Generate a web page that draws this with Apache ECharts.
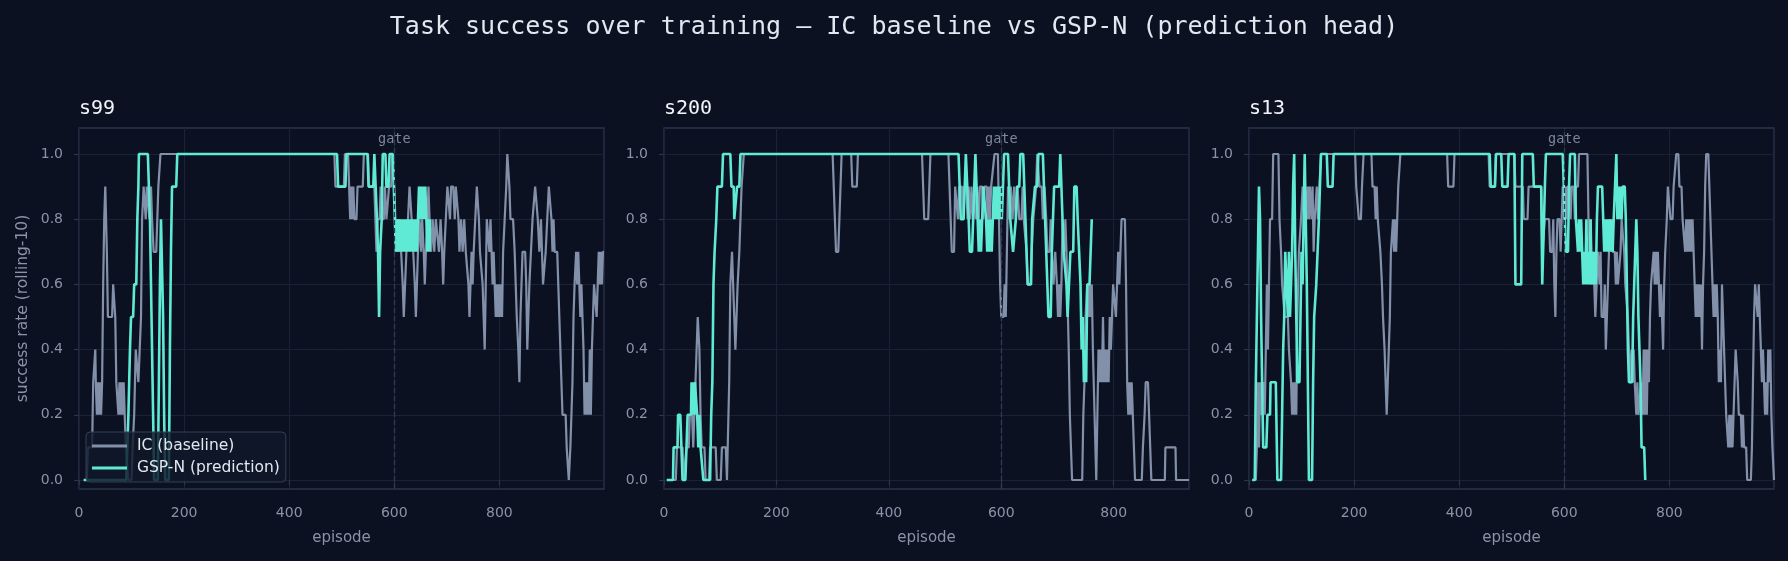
<!DOCTYPE html>
<html lang="en">
<head>
<meta charset="UTF-8">
<title>Task success over training</title>
<script src="https://cdn.jsdelivr.net/npm/echarts@6.0.0/dist/echarts.min.js"></script>
<style>
  html, body { margin: 0; padding: 0; background: #0b1120; }
  #chart { width: 1788px; height: 561px; }
</style>
</head>
<body>
<div id="chart"></div>
<script>
// ---- data (vertices of each rolling-10 curve: [episode, rate]) ----
var figTitle = 'Task success over training — IC baseline vs GSP-N (prediction head)';
var seeds = ['s99', 's200', 's13'];
var lastEpisode = [999, 934, 999];
var xTicks = [0, 200, 400, 600, 800];
var yTicks = [0, 0.2, 0.4, 0.6, 0.8, 1.0];
var gateEpisode = 600;
var nameIC = 'IC (baseline)';
var nameGSP = 'GSP-N (prediction)';

var s99_ic = [[9,0],[15,0],[17,0.1],[25,0.1],[27,0.3],[30,0.3],[31,0.4],[32,0.3],[34,0.2],[36,0.3],[38,0.2],[40,0.3],[42,0.2],[44,0.3],[46,0.6],[48,0.8],[50,0.9],[51,0.9],[53,0.7],[55,0.5],[63,0.5],[65,0.6],[67,0.6],[69,0.5],[71,0.3],[73,0.3],[75,0.2],[77,0.3],[79,0.2],[81,0.3],[83,0.2],[85,0.3],[87,0.2],[89,0.1],[92,0.1],[94,0],[100,0],[102,0.1],[105,0.2],[108,0.4],[111,0.4],[113,0.3],[116,0.3],[118,0.5],[120,0.8],[123,0.9],[125,0.9],[127,0.8],[129,0.9],[132,0.9],[134,0.8],[137,0.9],[139,0.8],[142,0.7],[147,0.7],[149,0.8],[151,0.9],[153,0.9],[155,1],
  [486,1],[488,0.9],[504,0.9],[506,1],[512,1],[514,0.9],[516,0.8],[518,0.9],[520,0.8],[522,0.9],[524,0.8],[528,0.8],[530,0.9],[540,0.9],[542,1],[550,1],[552,0.9],[562,0.9],[564,0.8],[566,0.7],[568,0.8],[572,0.8],[574,0.9],[576,0.8],[580,0.8],[582,0.9],[585,0.8],[588,0.8],[590,0.9],[594,0.9],[596,1],[598,1],[600,0.9],[602,0.8],[604,0.7],[606,0.8],[608,0.7],[610,0.8],[613,0.7],[616,0.6],[618,0.5],[620,0.5],[623,0.7],[626,0.8],[629,0.9],[631,0.9],[633,0.8],[636,0.7],[639,0.6],[641,0.5],[643,0.5],[645,0.7],[648,0.8],[651,0.7],[653,0.8],[656,0.7],[658,0.6],[660,0.7],[663,0.8],[665,0.9],[667,0.8],[670,0.7],[673,0.8],[676,0.7],[679,0.8],[682,0.8],[685,0.7],[688,0.8],[691,0.7],[693,0.6],[695,0.7],[698,0.8],[701,0.9],[704,0.9],[706,0.8],[708,0.9],[712,0.9],[715,0.8],[717,0.9],[720,0.9],[722,0.8],[724,0.7],[727,0.8],[730,0.7],[733,0.8],[736,0.7],[739,0.7],[741,0.6],[743,0.5],[745,0.6],[747,0.7],[749,0.6],[751,0.7],[754,0.8],[757,0.9],[759,0.9],[761,0.8],[763,0.7],[766,0.7],[768,0.6],[770,0.5],[772,0.4],[774,0.6],[776,0.8],[779,0.8],[781,0.7],[783,0.8],[785,0.7],[787,0.6],[789,0.7],[791,0.6],[793,0.5],[795,0.6],[797,0.5],[799,0.6],[801,0.5],[803,0.6],[805,0.5],[807,0.7],[810,0.8],[813,0.9],[815,1],[817,1],[819,0.9],[821,0.8],[826,0.8],[829,0.7],[831,0.6],[833,0.5],[836,0.4],[838,0.3],[840,0.5],[842,0.6],[844,0.7],[849,0.7],[851,0.6],[853,0.4],[855,0.4],[857,0.6],[860,0.7],[863,0.8],[866,0.8],[868,0.9],[871,0.9],[873,0.8],[876,0.7],[879,0.8],[881,0.7],[883,0.6],[886,0.6],[888,0.7],[891,0.8],[894,0.9],[897,0.9],[899,0.8],[901,0.7],[903,0.8],[905,0.7],[910,0.7],[912,0.6],[914,0.5],[916,0.4],[918,0.3],[920,0.2],[926,0.2],[928,0.1],[930,0.1],[932,0],[933,0],[935,0.1],[937,0.1],[939,0.3],[941,0.5],[943,0.6],[946,0.7],[948,0.6],[950,0.7],[952,0.6],[954,0.5],[956,0.6],[958,0.5],[960,0.4],[962,0.2],[964,0.3],[966,0.2],[968,0.3],[970,0.2],[972,0.4],[974,0.2],[976,0.4],[978,0.5],[980,0.6],[983,0.6],[985,0.5],[987,0.6],[989,0.7],[991,0.6],[993,0.7],[995,0.6],[997,0.7],[999,0.7]];

var s99_gsp = [[9,0],[90,0],[92,0.1],[94,0.2],[97,0.4],[99,0.5],[103,0.5],[105,0.6],[109,0.6],[111,0.8],[113,0.9],[114,1],[131,1],[133,0.9],[135,0.8],[137,0.6],[139,0.4],[141,0.2],[143,0],[150,0],[152,0.3],[154,0.6],[156,0.8],[158,0.8],[160,0.5],[162,0.2],[164,0],[171,0],[173,0.4],[175,0.7],[177,0.9],[185,0.9],[187,1],
  [491,1],[493,0.9],[507,0.9],[509,1],[549,1],[551,0.9],[560,0.9],[562,1],[565,1],[567,0.8],[569,0.7],[571,0.5],[573,0.7],[576,0.8],[578,1],[583,1],[585,0.9],[589,0.9],[591,1],[597,1],[599,0.9],[601,0.8],[603,0.7],[605,0.8],[607,0.7],[609,0.8],[611,0.7],[613,0.8],[615,0.7],[617,0.8],[619,0.7],[621,0.8],[623,0.7],[625,0.8],[627,0.7],[629,0.8],[631,0.7],[633,0.8],[635,0.7],[637,0.8],[639,0.7],[641,0.8],[643,0.7],[645,0.8],[647,0.9],[649,0.8],[651,0.9],[653,0.8],[655,0.9],[657,0.8],[659,0.9],[661,0.8],[663,0.7],[665,0.8],[667,0.7],[668,0.8]];

var s200_ic = [[5,0],[21,0],[23,0.1],[33,0.1],[35,0],[38,0],[40,0.1],[44,0.1],[46,0.2],[50,0.2],[52,0.1],[54,0.2],[56,0.3],[58,0.4],[60,0.5],[62,0.5],[63,0.4],[65,0.2],[67,0.1],[72,0.1],[74,0],[80,0],[82,0.1],[92,0.1],[94,0],[101,0],[103,0.1],[110,0.1],[112,0],[114,0],[116,0.3],[118,0.6],[121,0.7],[123,0.7],[125,0.5],[127,0.4],[129,0.4],[131,0.6],[134,0.7],[136,0.8],[138,0.9],[140,0.9],[142,1],
  [300,1],[302,0.9],[304,0.8],[306,0.7],[310,0.7],[312,0.8],[314,0.9],[316,1],[333,1],[335,0.9],[343,0.9],[345,1],[459,1],[461,0.9],[463,0.8],[470,0.8],[472,0.9],[474,1],[506,1],[508,0.9],[510,0.8],[512,0.7],[516,0.7],[518,0.9],[521,0.9],[523,0.8],[525,0.9],[530,0.9],[532,0.8],[534,0.9],[538,0.9],[540,0.8],[542,0.9],[545,0.8],[547,0.9],[550,0.8],[552,0.9],[555,0.8],[557,0.9],[560,0.8],[562,0.9],[566,0.9],[568,0.8],[570,0.9],[574,0.9],[576,0.8],[578,0.9],[580,0.8],[582,0.9],[585,0.9],[588,1],[594,1],[596,0.8],[598,0.6],[600,0.5],[604,0.5],[606,0.6],[608,0.5],[610,0.7],[612,0.9],[614,0.8],[617,0.9],[620,0.8],[623,0.9],[626,0.8],[629,0.9],[632,0.8],[636,0.8],[638,0.9],[640,0.8],[643,0.8],[645,0.7],[647,0.6],[652,0.6],[654,0.7],[657,0.8],[660,0.8],[662,0.9],[664,1],[666,1],[668,0.9],[672,0.9],[674,0.8],[677,0.9],[680,0.8],[682,0.7],[686,0.7],[688,0.8],[690,0.7],[693,0.6],[696,0.7],[699,0.6],[701,0.5],[703,0.6],[705,0.5],[707,0.6],[709,0.8],[712,0.7],[714,0.8],[716,0.7],[718,0.7],[720,0.4],[722,0.2],[724,0.1],[726,0],[744,0],[746,0.2],[748,0.3],[750,0.5],[753,0.6],[755,0.5],[757,0.6],[759,0.5],[761,0.6],[763,0.4],[766,0.2],[769,0],[771,0.2],[773,0.4],[775,0.3],[777,0.4],[779,0.3],[781,0.5],[783,0.3],[785,0.4],[787,0.3],[789,0.4],[791,0.3],[793,0.5],[795,0.4],[797,0.5],[799,0.6],[802,0.6],[804,0.5],[806,0.6],[808,0.7],[810,0.6],[812,0.7],[814,0.8],[820,0.8],[822,0.6],[824,0.3],[826,0.2],[828,0.3],[830,0.2],[832,0.3],[834,0.2],[836,0.1],[838,0],[850,0],[852,0.1],[855,0.2],[857,0.3],[861,0.3],[863,0.2],[865,0.1],[867,0],[891,0],[892,0.1],[910,0.1],[911,0],[934,0]];

var s200_gsp = [[5,0],[16,0],[17,0.1],[24,0.1],[25,0.2],[29,0.2],[31,0.1],[33,0],[38,0],[40,0.1],[42,0.2],[48,0.2],[49,0.3],[51,0.2],[52,0.3],[54,0.2],[55,0.3],[57,0.3],[59,0.2],[61,0.1],[63,0.2],[65,0.1],[68,0.1],[70,0],[82,0],[84,0.2],[86,0.3],[88,0.6],[90,0.7],[92,0.7],[93,0.8],[95,0.9],[103,0.9],[105,1],[118,1],[120,0.9],[124,0.9],[125,0.8],[128,0.8],[130,0.9],[134,0.9],[136,1],
  [524,1],[526,0.9],[528,0.8],[533,0.8],[535,0.9],[537,1],[540,1],[542,0.8],[544,0.7],[548,0.7],[550,0.8],[552,0.9],[554,1],[556,0.9],[558,0.8],[560,0.7],[562,0.8],[564,0.7],[566,0.8],[568,0.9],[571,0.9],[573,0.8],[575,0.7],[577,0.8],[579,0.7],[581,0.8],[583,0.7],[585,0.8],[587,0.9],[589,0.8],[591,0.9],[593,0.8],[595,0.9],[597,0.8],[599,0.9],[601,0.8],[603,0.9],[605,1],[612,1],[614,0.9],[616,0.8],[619,0.8],[621,0.7],[624,0.7],[626,0.8],[628,0.9],[632,0.9],[634,1],[639,1],[641,0.9],[643,0.8],[645,0.7],[647,0.6],[653,0.6],[655,0.8],[658,0.8],[660,0.9],[664,0.9],[666,1],[674,1],[676,0.9],[678,0.8],[680,0.7],[682,0.6],[684,0.5],[688,0.5],[690,0.7],[692,0.8],[694,0.9],[703,0.9],[705,1],[707,1],[709,0.8],[711,0.7],[714,0.7],[716,0.6],[718,0.5],[721,0.5],[723,0.7],[728,0.7],[730,0.9],[734,0.9],[736,0.8],[739,0.8],[741,0.6],[743,0.4],[745,0.5],[747,0.3],[749,0.4],[751,0.3],[753,0.6],[757,0.6],[759,0.7],[761,0.8]];

var s13_ic = [[9,0],[13,0],[15,0.1],[17,0.3],[19,0.1],[21,0.3],[23,0.2],[26,0.2],[28,0.3],[30,0.2],[32,0.4],[34,0.6],[36,0.4],[38,0.6],[40,0.8],[44,0.8],[46,1],[56,1],[58,0.8],[61,0.7],[63,0.6],[66,0.6],[68,0.5],[74,0.5],[76,0.4],[80,0.3],[82,0.2],[84,0.3],[86,0.2],[88,0.3],[90,0.2],[92,0.5],[95,0.7],[99,0.8],[102,0.9],[105,0.8],[107,0.9],[110,0.8],[112,0.9],[114,0.8],[116,0.9],[119,0.8],[121,0.9],[123,0.7],[125,0.8],[127,0.8],[129,0.9],[131,0.8],[134,0.9],[137,1],
  [202,1],[204,0.9],[207,0.9],[209,0.8],[213,0.8],[215,0.9],[218,1],[233,1],[235,0.9],[239,0.9],[241,0.8],[243,0.9],[245,0.8],[248,0.8],[250,0.7],[253,0.6],[255,0.5],[258,0.4],[260,0.3],[262,0.2],[264,0.3],[266,0.4],[268,0.5],[270,0.7],[272,0.7],[274,0.8],[276,0.7],[278,0.8],[280,0.7],[282,0.8],[284,0.9],[286,0.9],[288,1],[377,1],[379,0.9],[389,0.9],[391,1],[456,1],[458,0.9],[468,0.9],[470,1],
  [505,1],[507,0.9],[521,0.9],[523,0.8],[530,0.8],[532,0.9],[556,0.9],[558,0.7],[561,0.7],[563,0.8],[571,0.8],[573,0.7],[577,0.7],[579,0.8],[581,0.6],[583,0.5],[585,0.7],[587,0.8],[591,0.8],[593,0.7],[595,0.8],[597,0.9],[600,0.8],[602,0.9],[604,0.8],[606,0.9],[610,0.9],[612,0.8],[614,0.9],[618,0.9],[620,0.8],[622,0.9],[626,0.9],[628,1],[644,1],[646,0.8],[648,0.7],[650,0.8],[652,0.6],[655,0.7],[657,0.6],[659,0.5],[662,0.5],[664,0.7],[667,0.6],[669,0.7],[671,0.5],[675,0.5],[677,0.6],[679,0.4],[681,0.4],[683,0.6],[685,0.7],[687,0.8],[690,0.8],[692,0.7],[696,0.7],[698,0.6],[700,0.7],[702,0.6],[705,0.6],[707,0.7],[709,0.8],[712,0.8],[714,0.7],[716,0.6],[719,0.6],[721,0.5],[723,0.4],[725,0.3],[728,0.4],[730,0.3],[732,0.4],[734,0.3],[737,0.2],[739,0.3],[741,0.2],[744,0.2],[746,0.3],[749,0.2],[751,0.4],[753,0.2],[755,0.4],[757,0.2],[759,0.4],[761,0.3],[763,0.5],[765,0.6],[768,0.6],[770,0.7],[772,0.6],[774,0.7],[776,0.6],[778,0.7],[780,0.6],[782,0.5],[784,0.6],[786,0.5],[788,0.4],[790,0.6],[792,0.7],[795,0.8],[797,0.9],[800,0.9],[802,0.8],[806,0.8],[808,0.9],[811,0.9],[813,1],[817,1],[819,0.9],[823,0.9],[825,0.8],[828,0.8],[830,0.7],[832,0.8],[834,0.7],[836,0.8],[838,0.7],[840,0.8],[842,0.7],[844,0.8],[846,0.7],[848,0.6],[850,0.5],[852,0.6],[854,0.5],[856,0.6],[858,0.5],[860,0.6],[862,0.4],[864,0.6],[866,0.7],[868,0.9],[870,1],[874,1],[876,0.9],[878,0.8],[880,0.7],[882,0.6],[884,0.5],[886,0.6],[888,0.5],[890,0.6],[892,0.5],[894,0.3],[896,0.4],[898,0.3],[900,0.6],[902,0.5],[904,0.4],[906,0.3],[908,0.2],[910,0.2],[912,0.1],[914,0.2],[916,0.1],[918,0.2],[920,0.1],[922,0.2],[924,0.3],[926,0.4],[928,0.4],[930,0.3],[932,0.2],[936,0.2],[938,0.1],[940,0.2],[942,0.1],[946,0.1],[948,0],[955,0],[957,0.1],[959,0.3],[961,0.5],[963,0.6],[966,0.6],[968,0.5],[970,0.6],[972,0.5],[974,0.4],[976,0.3],[978,0.4],[980,0.3],[982,0.2],[984,0.3],[986,0.2],[988,0.4],[990,0.3],[992,0.4],[994,0.2],[996,0.1],[999,0]];

var s13_gsp = [[6,0],[11,0],[13,0.3],[16,0.6],[19,0.9],[21,0.8],[23,0.5],[25,0.3],[27,0.1],[33,0.1],[35,0.2],[40,0.2],[41,0.3],[51,0.3],[53,0.1],[54,0],[61,0],[63,0.2],[65,0.4],[67,0.5],[69,0.7],[72,0.7],[74,0.5],[76,0.7],[78,0.5],[80,0.6],[82,0.7],[84,0.9],[86,1],[88,0.7],[90,0.5],[92,0.3],[96,0.3],[98,0.5],[100,0.7],[102,0.6],[104,0.8],[106,1],[108,0.8],[110,0.6],[112,0.3],[114,0],[120,0],[122,0.3],[124,0.5],[126,0.5],[128,0.6],[131,0.6],[133,0.8],[135,0.9],[137,1],[148,1],[150,0.9],[159,0.9],[161,1],
  [458,1],[460,0.9],[468,0.9],[470,1],[480,1],[482,0.9],[492,0.9],[494,1],[505,1],[507,0.6],[518,0.6],[520,1],[540,1],[542,0.9],[556,0.9],[558,0.6],[560,0.6],[563,0.9],[565,1],[597,1],[599,0.9],[601,0.8],[603,0.7],[607,0.7],[609,0.9],[611,1],[620,1],[622,0.8],[624,0.8],[626,0.7],[628,0.8],[630,0.7],[632,0.8],[634,0.7],[636,0.6],[638,0.7],[640,0.6],[642,0.8],[644,0.6],[646,0.7],[648,0.6],[650,0.8],[652,0.6],[654,0.7],[656,0.6],[658,0.7],[660,0.6],[662,0.8],[664,0.9],[672,0.9],[674,0.8],[676,0.7],[678,0.8],[680,0.7],[682,0.8],[684,0.7],[686,0.8],[688,0.7],[690,0.8],[692,0.7],[694,0.8],[697,0.8],[699,1],[701,0.8],[703,0.9],[705,0.8],[707,0.9],[709,0.8],[711,0.9],[715,0.9],[717,0.8],[719,0.6],[721,0.4],[723,0.3],[729,0.3],[731,0.5],[733,0.6],[735,0.7],[737,0.8],[739,0.7],[741,0.5],[743,0.4],[745,0.3],[747,0.1],[752,0.1],[754,0]];

var icData = [s99_ic, s200_ic, s13_ic];
var gspData = [s99_gsp, s200_gsp, s13_gsp];

// ---- layout / style ----
var BG = '#0b1120';
var SPINE = '#2a344e';
var GRIDLINE = '#1a2335';
var TICKTXT = '#8a93a8';
var GRAY = '#8390aa';
var TEAL = '#5eead4';
var GATE = '#303b58';
var panelLeft = [79, 664, 1249];
var panelWidth = 525;
var frameTop = 128, frameHeight = 361;   // axes box
var unitTop = 154, unitHeight = 326;     // where 1.0 and 0.0 sit
var yLo = -(frameTop + frameHeight - unitTop - unitHeight) / unitHeight;
var yHi = 1 + (unitTop - frameTop) / unitHeight;

var chart = echarts.init(document.getElementById('chart'));

var grids = [], xAxes = [], yAxes = [], series = [];
var titles = [{
  text: figTitle, left: 'center', top: 15, padding: 0,
  textStyle: { color: '#e2e8f0', fontFamily: 'DejaVu Sans Mono', fontSize: 25, fontWeight: 'normal' }
}];

seeds.forEach(function (seed, i) {
  var left = panelLeft[i];
  // frame grid: carries the data and the vertical gridlines
  grids.push({ left: left, top: frameTop, width: panelWidth, height: frameHeight,
    show: true, borderColor: SPINE, borderWidth: 1.3, backgroundColor: 'transparent' });
  // unit grid: 0..1 band, carries y ticks and horizontal gridlines
  grids.push({ left: left, top: unitTop, width: panelWidth, height: unitHeight });

  titles.push({ text: seed, left: left, top: 99, padding: 0,
    textStyle: { color: '#f1f5f9', fontFamily: 'DejaVu Sans Mono', fontSize: 20, fontWeight: 'normal' } });

  xAxes.push({
    gridIndex: 2 * i, type: 'value', min: 0, max: lastEpisode[i], interval: 200,
    axisLine: { show: false },
    axisTick: { show: true, length: 5, customValues: xTicks, lineStyle: { color: SPINE, width: 1.2 } },
    axisLabel: { color: TICKTXT, fontFamily: 'DejaVu Sans', fontSize: 14, margin: 17, customValues: xTicks,
      formatter: function (v) { return xTicks.indexOf(v) >= 0 ? String(v) : ''; } },
    splitLine: { show: true, lineStyle: { color: GRIDLINE, width: 1 } },
    name: 'episode', nameLocation: 'middle', nameGap: 42,
    nameTextStyle: { color: TICKTXT, fontFamily: 'DejaVu Sans', fontSize: 15 }
  });
  xAxes.push({ gridIndex: 2 * i + 1, type: 'value', min: 0, max: lastEpisode[i], show: false });

  yAxes.push({
    gridIndex: 2 * i, type: 'value', min: yLo, max: yHi, show: true,
    axisLine: { show: false }, axisTick: { show: false }, axisLabel: { show: false }, splitLine: { show: false },
    name: i === 0 ? 'success rate (rolling-10)' : '', nameLocation: 'middle', nameGap: 48,
    nameTextStyle: { color: TICKTXT, fontFamily: 'DejaVu Sans', fontSize: 15.5 }
  });
  yAxes.push({
    gridIndex: 2 * i + 1, type: 'value', min: 0, max: 1, interval: 0.2,
    axisLine: { show: false },
    axisTick: { show: true, length: 5, lineStyle: { color: SPINE, width: 1.2 } },
    axisLabel: { color: TICKTXT, fontFamily: 'DejaVu Sans', fontSize: 14, margin: 16,
      formatter: function (v) { return v.toFixed(1); } },
    splitLine: { show: true, lineStyle: { color: GRIDLINE, width: 1 } }
  });

  series.push({
    name: nameIC, type: 'line', xAxisIndex: 2 * i, yAxisIndex: 2 * i,
    data: icData[i], showSymbol: false, symbol: 'none', z: 2,
    itemStyle: { color: GRAY }, lineStyle: { color: GRAY, width: 2.2 },
    markLine: {
      silent: true, symbol: ['none', 'none'], label: { show: false },
      lineStyle: { color: GATE, type: [5, 3], width: 1.3 },
      data: [{ xAxis: gateEpisode }]
    },
    markPoint: {
      silent: true, symbol: 'circle', symbolSize: 1, itemStyle: { color: 'transparent' },
      label: { show: true, position: 'inside', formatter: 'gate', color: '#7d869b',
        fontFamily: 'DejaVu Sans Mono', fontSize: 13.5 },
      data: [{ coord: [gateEpisode, 1.045] }]
    }
  });
  series.push({
    name: nameGSP, type: 'line', xAxisIndex: 2 * i, yAxisIndex: 2 * i,
    data: gspData[i], showSymbol: false, symbol: 'none', z: 3,
    itemStyle: { color: TEAL }, lineStyle: { color: TEAL, width: 2.6 }
  });
});

chart.setOption({
  backgroundColor: BG,
  animation: false,
  title: titles,
  legend: {
    data: [nameIC, nameGSP], orient: 'vertical', left: 86, top: 432,
    icon: 'rect', itemWidth: 35, itemHeight: 3, itemGap: 4,
    padding: [5, 6, 5, 6], backgroundColor: 'rgba(15,23,42,0.82)',
    borderColor: '#334155', borderWidth: 1, borderRadius: 4,
    textStyle: { color: '#e2e8f0', fontFamily: 'DejaVu Sans', fontSize: 15.5, lineHeight: 18, padding: [0, 0, 0, 5] },
    selectedMode: false
  },
  grid: grids,
  xAxis: xAxes,
  yAxis: yAxes,
  series: series
});
</script>
</body>
</html>
